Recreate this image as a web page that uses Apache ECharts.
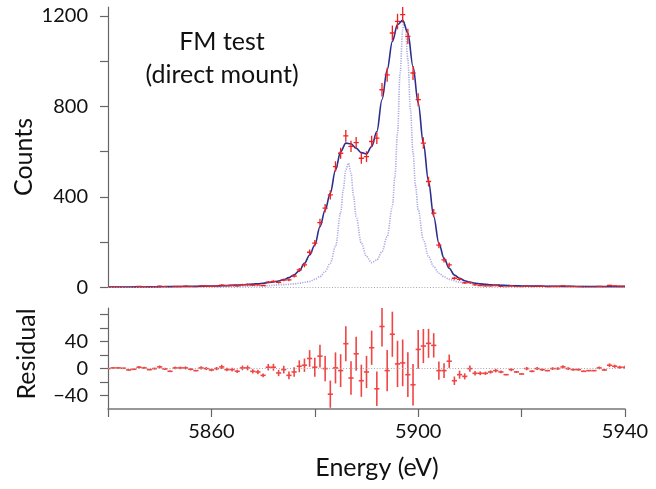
<!DOCTYPE html>
<html>
<head>
<meta charset="utf-8">
<script src="https://cdn.jsdelivr.net/npm/echarts@6/dist/echarts.min.js"></script>
<style>
html,body{margin:0;padding:0;background:#fff;}
#chart{width:656px;height:489px;}
</style>
</head>
<body>
<div id="chart"></div>
<script>
// Bin centers (eV)
var energies = [5840,5841,5842,5843,5844,5845,5846,5847,5848,5849,
5850,5851,5852,5853,5854,5855,5856,5857,5858,5859,
5860,5861,5862,5863,5864,5865,5866,5867,5868,5869,
5870,5871,5872,5873,5874,5875,5876,5877,5878,5879,
5880,5881,5882,5883,5884,5885,5886,5887,5888,5889,
5890,5891,5892,5893,5894,5895,5896,5897,5898,5899,
5900,5901,5902,5903,5904,5905,5906,5907,5908,5909,
5910,5911,5912,5913,5914,5915,5916,5917,5918,5919,
5920,5921,5922,5923,5924,5925,5926,5927,5928,5929,
5930,5931,5932,5933,5934,5935,5936,5937,5938,5939,5940];

// Measured counts
var counts = [1,2,2,1,0,1,4,3,1,2,
5,3,0,4,4,5,3,1,6,5,
4,6,10,7,8,6,12,13,10,11,
8,23,26,22,32,33,50,77,99,155,
195,286,350,409,534,593,670,623,640,571,
578,645,660,874,940,1125,1176,1206,1110,948,
830,638,468,328,187,121,99,40,35,20,
22,11,8,6,6,7,4,1,6,2,
1,6,2,5,4,1,4,4,6,4,
3,3,1,1,1,4,2,8,6,5,5];

// Statistical errors on counts
var errors = [1,1.4,1.4,1,1,1,2,1.7,1,1.4,
2.2,1.7,1,2,2,2.2,1.7,1,2.4,2.2,
2,2.4,3.2,2.6,2.8,2.4,3.5,3.6,3.2,3.3,
2.8,4.8,5.1,4.7,5.7,5.7,7.1,8.8,9.9,12.4,
14,16.9,18.7,20.2,23.1,24.4,25.9,25,25.3,23.9,
24,25.4,25.7,29.6,30.7,33.5,34.3,34.7,33.3,30.8,
28.8,25.3,21.6,18.1,13.7,11,9.9,6.3,5.9,4.5,
4.7,3.3,2.8,2.4,2.4,2.6,2,1,2.4,1.4,
1,2.4,1.4,2.2,2,1,2,2,2.4,2,
1.7,1.7,1,1,1,2,1.4,2.8,2.4,2.2,2.2];

// Total fit model
var model = [1,1,1,1,1,2,2,2,2,2,
2,3,3,3,3,4,4,4,5,5,
6,6,7,8,9,10,11,12,14,16,
18,21,24,28,34,43,55,73,106,143,
187,268,342,416,519,600,638,635,615,596,
590,623,689,830,962,1088,1162,1181,1125,977,
815,638,468,313,195,128,84,54,40,29,
22,18,15,13,11,10,9,8,7,7,
6,6,5,5,5,4,4,4,4,4,
4,3,3,3,3,3,3,3,3,3,3];

// Residuals (data - model)
var residuals = [0,1,1,0.5,-2,-1,2,1,-1.5,0,
2.5,-0.5,-4,1,1,1,-1,-3,1,0,
-2,0,2.5,-1.5,-1.5,-4,1,1,-4,-5,
-10,2,2,-6.5,-1.5,-10,-5,3.5,5,15,
2,18.5,0,-38,1,-3,37,-14,22,-18,
-5,31,-30,62.5,-3,51,7,8.5,-9,-24,
28.5,33.5,37.5,34.5,-3,-3,11,-18,-9,-11.5,
0,-7,-7,-7,-5,-3,-5,-9,-1.5,-5,
-8,0,-4,0,-1.5,-3,0,0,2.5,0,
-1.5,-1.5,-4,-3,-3,1,-2,5,3.5,2,2];

// Intrinsic line components (dotted)
var compEnergy = [5840,5850,5860,5870,5874,5876,5877,5878,5879,5880,5881,5882,5883,5884,5885,5885.5,5886,5886.5,5887,5887.5,5888,5889,5890,5891,5892,5893,5894,5895,5895.5,5896,5896.5,5897,5897.25,5897.5,5898,5898.5,5899,5899.5,5900,5901,5902,5903,5904,5905,5906,5908,5910,5915,5920,5930,5940];
var compCounts = [1,2,3,6,12,15,18,22,26,35,47,70,107,180,328,431,520,549,505,402,313,195,136,109,121,158,224,357,490,682,948,1140,1176,1154,1007,785,594,446,343,210,136,92,62,47,35,23,18,10,7,4,3];

// Axis ticks and labels
var xTicks = [5840,5860,5880,5900,5920,5940];
var xLabels = [5860,5900,5940];
var yTicksTop = [0,200,400,600,800,1000,1200];
var yLabelsTop = [0,400,800,1200];
var yTicksRes = [-40,-20,0,20,40,60,80];
var yLabelsRes = [-40,0,40];

var FONT = 'Lato, "DejaVu Sans", sans-serif';
var RED = '#ee2020';

function pairs(xs, ys){ return xs.map(function(x,i){ return [x, ys[i]]; }); }
function triples(xs, ys, es){ return xs.map(function(x,i){ return [x, ys[i], es[i]]; }); }
function plain(v){ return v < 0 ? '\u2212' + String(Math.abs(v)) : String(v); }

function errRender(color, width){
  return function(params, api){
    var x = api.value(0), y = api.value(1), e = api.value(2);
    var a = api.coord([x, y - e]), b = api.coord([x, y + e]);
    var c = api.coord([x - 0.5, y]), d = api.coord([x + 0.5, y]);
    var st = {stroke: color, lineWidth: width};
    return {type:'group', children:[
      {type:'line', shape:{x1:a[0],y1:a[1],x2:b[0],y2:b[1]}, style:st},
      {type:'line', shape:{x1:c[0],y1:c[1],x2:d[0],y2:d[1]}, style:st}
    ]};
  };
}

var axisLineStyle = {color:'#666', width:1.2};
var labelStyle = {color:'#111', fontSize:20, fontFamily:FONT, formatter:plain};
var zeroLine = {silent:true, symbol:'none', label:{show:false},
  lineStyle:{color:'#a8a8a8', type:[1,1.8], width:1}, data:[{yAxis:0}]};

var chart = echarts.init(document.getElementById('chart'), null, {renderer:'canvas'});
chart.setOption({
  animation:false,
  backgroundColor:'#fff',
  grid:[
    {left:108, top:7, width:517, height:280.3},
    {left:108, top:308, width:517, height:101}
  ],
  xAxis:[
    {gridIndex:0, type:'value', min:5840, max:5940, show:false},
    {gridIndex:1, type:'value', min:5840, max:5940, interval:20, position:'bottom',
     axisLine:{show:true, onZero:false, lineStyle:{color:'#777', width:1.5}},
     axisTick:{show:true, inside:false, length:8, customValues:xTicks, lineStyle:{color:'#666', width:1.2}},
     axisLabel:Object.assign({customValues:xLabels, margin:13}, labelStyle),
     splitLine:{show:false}}
  ],
  yAxis:[
    {gridIndex:0, type:'value', min:0, max:1240,
     axisLine:{show:true, onZero:false, lineStyle:axisLineStyle},
     axisTick:{show:true, inside:false, length:8, customValues:yTicksTop, lineStyle:axisLineStyle},
     axisLabel:Object.assign({customValues:yLabelsTop, margin:20}, labelStyle),
     splitLine:{show:false}},
    {gridIndex:1, type:'value', min:-60, max:90,
     axisLine:{show:true, onZero:false, lineStyle:axisLineStyle},
     axisTick:{show:true, inside:false, length:8, customValues:yTicksRes, lineStyle:axisLineStyle},
     axisLabel:Object.assign({customValues:yLabelsRes, margin:20}, labelStyle),
     splitLine:{show:false}}
  ],
  series:[
    {type:'line', xAxisIndex:0, yAxisIndex:0, data:pairs(compEnergy, compCounts),
     smooth:0.35, smoothMonotone:'x', showSymbol:false, z:1,
     lineStyle:{color:'#a9a9e4', width:1.6, type:[1.2,1.2]},
     markLine:zeroLine},
    {type:'line', xAxisIndex:0, yAxisIndex:0, data:pairs(energies, model),
     smooth:0.35, smoothMonotone:'x', showSymbol:false, z:2,
     lineStyle:{color:'#2b2e8e', width:1.6}},
    {type:'custom', xAxisIndex:0, yAxisIndex:0, data:triples(energies, counts, errors),
     renderItem:errRender(RED, 1.3), z:3, clip:true},
    {type:'custom', xAxisIndex:1, yAxisIndex:1, data:triples(energies, residuals, errors),
     renderItem:errRender('#f04545', 1.6), z:3, clip:true,
     markLine:zeroLine}
  ],
  graphic:[
    {type:'text', x:222, y:42, style:{text:'FM test', font:'25px ' + FONT, fill:'#111', align:'center', verticalAlign:'middle'}},
    {type:'text', x:222, y:75, style:{text:'(direct mount)', font:'25px ' + FONT, fill:'#111', align:'center', verticalAlign:'middle'}},
    {type:'text', x:24, y:157, rotation:Math.PI/2, style:{text:'Counts', font:'25px ' + FONT, fill:'#111', align:'center', verticalAlign:'middle'}},
    {type:'text', x:27, y:354, rotation:Math.PI/2, style:{text:'Residual', font:'25px ' + FONT, fill:'#111', align:'center', verticalAlign:'middle'}},
    {type:'text', x:377, y:468, style:{text:'Energy (eV)', font:'25px ' + FONT, fill:'#111', align:'center', verticalAlign:'middle'}}
  ]
});
</script>
</body>
</html>
